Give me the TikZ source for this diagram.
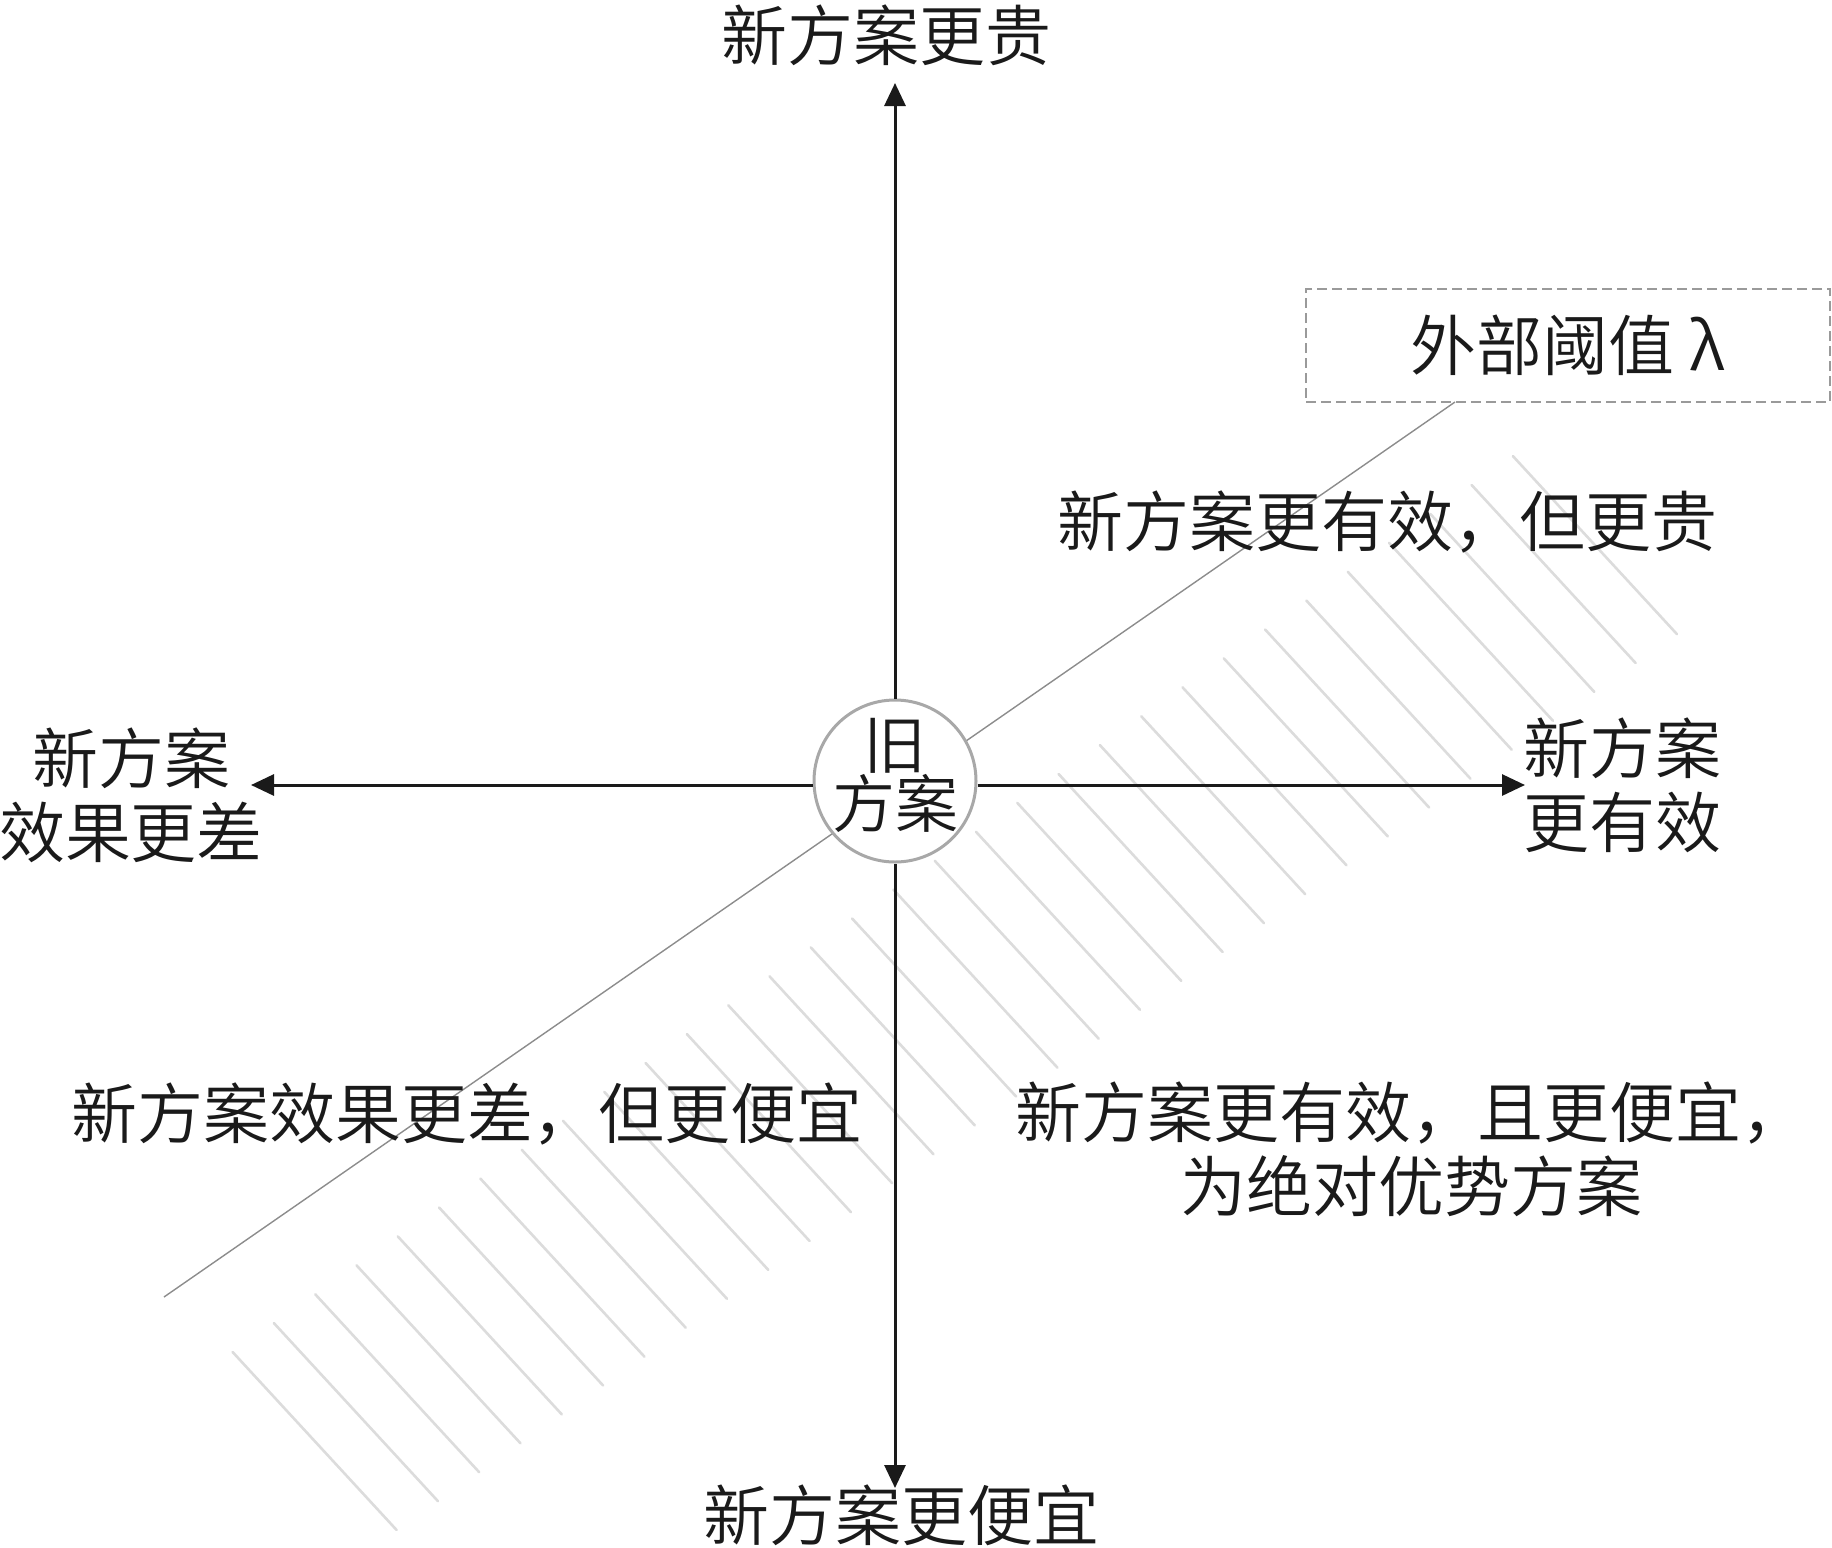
\documentclass[tikz,border=0pt]{standalone}
\usepackage{fontspec}
\IfFontExistsTF{Noto Sans CJK SC DemiLight}{\setmainfont{Noto Sans CJK SC DemiLight}}{\setmainfont{Noto Sans CJK SC}}
\usetikzlibrary{arrows.meta}
\definecolor{axiscol}{HTML}{1A1A1A}
\definecolor{circcol}{HTML}{A8A8A8}
\definecolor{threshcol}{HTML}{8C8C8C}
\definecolor{hatchcol}{HTML}{DCDCDC}
\definecolor{boxcol}{HTML}{9A9A9A}
\begin{document}
\begin{tikzpicture}[x=1pt,y=-1pt,
  axisline/.style={draw=axiscol, line width=3pt, -{Triangle[length=23pt,width=21pt]}},
  hatchline/.style={draw=hatchcol, line width=2.6pt, line cap=round},
  threshline/.style={draw=threshcol, line width=1.4pt},
  lbl/.style={inner sep=0pt, text=axiscol, font=\fontsize{66pt}{74pt}\selectfont},
  oldbox/.style={circle, draw=circcol, line width=3pt, fill=white, minimum size=162pt, inner sep=0pt, align=center, text=axiscol, font=\fontsize{63pt}{58pt}\selectfont},
  lambox/.style={draw=boxcol, line width=2.2pt, dash pattern=on 10pt off 5pt, minimum width=524pt, minimum height=113pt, inner sep=0pt, text=axiscol, font=\fontsize{66pt}{74pt}\selectfont}
]
\useasboundingbox (0,0) rectangle (1832,1548);

% hatching of the region below the threshold line
\foreach \i in {0,...,31} {
  \draw[hatchline] ({232.6+41.3*\i},{1352-28.9*\i}) -- ++(164,178);
}

% threshold box
\node[lambox] (lam) at (1568,345.5) {外部阈值 λ};
\coordinate (t0) at (164,1297);
\coordinate (t1) at (1455,402);
\draw[threshline] (t0) -- (t1);

% axis tips
\coordinate (tipT) at (895,83);
\coordinate (tipB) at (895,1488);
\coordinate (tipL) at (251,785);
\coordinate (tipR) at (1525,785);

% centre circle
\node[oldbox] (old) at (895,781) {};
\node[inner sep=0pt, align=center, text=axiscol, font=\fontsize{63pt}{58pt}\selectfont] (oldtxt) at (895,775) {旧\\方案};

\draw[axisline] (old) -- (tipT);
\draw[axisline] (old) -- (tipB);
\draw[axisline] (old.west |- tipL) -- (tipL);
\draw[axisline] (old.east |- tipR) -- (tipR);

% labels
\node[lbl] (top) at (886,35) {新方案更贵};
\node[lbl] (bot) at (901,1515) {新方案更便宜};
\node[lbl, align=center] (left) at (131,795) {新方案\\效果更差};
\node[lbl, align=center] (right) at (1622,785) {新方案\\更有效};
\node[lbl] (q1) at (1387,522) {新方案更有效，但更贵};
\node[lbl] (q3) at (467,1114) {新方案效果更差，但更便宜};
\node[lbl, align=center] (q4) at (1411,1149) {新方案更有效，且更便宜，\\为绝对优势方案};
\end{tikzpicture}
\end{document}
